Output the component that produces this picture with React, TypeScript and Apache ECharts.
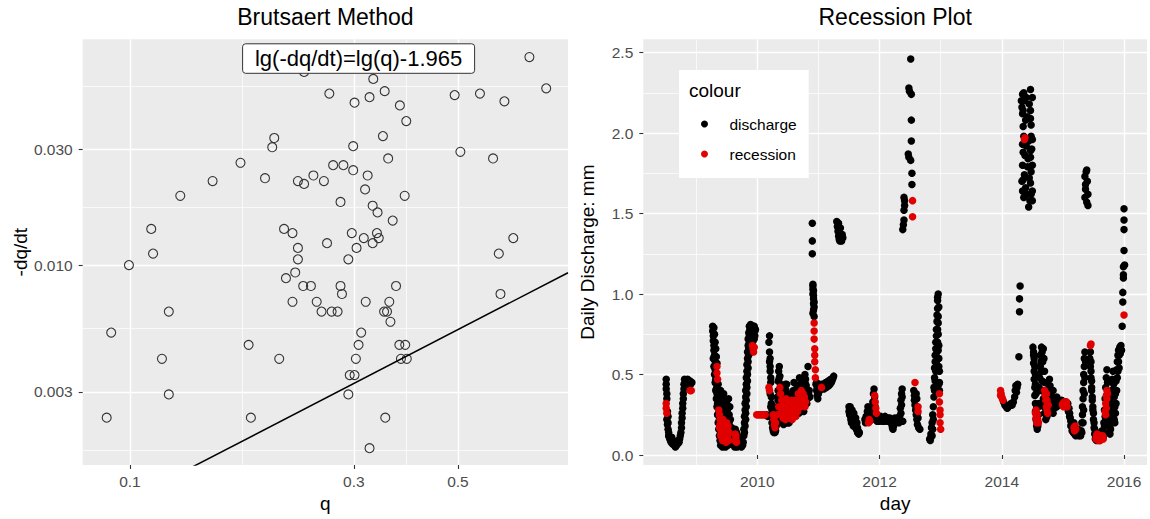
import React, { useEffect, useRef } from 'react';
import * as echarts from 'echarts';

// ---------- Left panel: Brutsaert method ----------
const qValues = [0.235,0.330,0.710,0.771,0.266,0.349,0.324,0.301,0.376,0.388,0.492,0.557,0.628,0.203,0.201,0.346,0.299,0.506,0.594,0.355,0.172,0.271,0.285,0.299,0.321,0.246,0.194,0.150,0.228,0.235,0.259,0.317,0.128,0.385,0.281,0.329,0.337,0.363,0.111,0.213,0.222,0.297,0.336,0.315,0.339,0.656,0.263,0.329,0.228,0.304,0.112,0.611,0.228,0.292,0.0995,0.225,0.215,0.234,0.243,0.281,0.369,0.283,0.616,0.222,0.250,0.318,0.357,0.121,0.256,0.269,0.277,0.348,0.353,0.359,0.0912,0.311,0.179,0.307,0.375,0.386,0.117,0.208,0.303,0.378,0.389,0.294,0.301,0.121,0.292,0.0892,0.181,0.350,0.324];
const dqdtValues = [0.0625,0.0585,0.0720,0.0535,0.0509,0.0521,0.0492,0.0467,0.0455,0.0392,0.0502,0.0509,0.0473,0.0334,0.0306,0.0340,0.0309,0.0293,0.0275,0.0275,0.0264,0.0258,0.0258,0.0246,0.0234,0.0234,0.0228,0.0222,0.0222,0.0216,0.0222,0.0205,0.0193,0.0193,0.0182,0.01756,0.01648,0.01525,0.01409,0.01409,0.01355,0.01355,0.01355,0.01292,0.01292,0.01292,0.01231,0.01231,0.01177,0.01177,0.01115,0.01115,0.01056,0.01056,0.0100,0.00932,0.00883,0.0082,0.0082,0.0082,0.0082,0.0076,0.0076,0.00706,0.00706,0.00706,0.00706,0.00643,0.00643,0.00643,0.00643,0.00643,0.00643,0.00584,0.00527,0.00527,0.00469,0.00469,0.00469,0.00469,0.00411,0.00411,0.00411,0.00411,0.00411,0.00352,0.00352,0.00293,0.00293,0.00235,0.00235,0.00235,0.00176];
const fitSlope = 1;
const fitIntercept = -1.965; // lg(-dq/dt) = lg(q) - 1.965
const fitLabel = 'lg(-dq/dt)=lg(q)-1.965';
const qTicks = [0.1, 0.3, 0.5];
const qTickLabels = ['0.1', '0.3', '0.5'];
const qMinorTicks = [0.1732, 0.3873];
const dqdtTicks = [0.003, 0.01, 0.03];
const dqdtTickLabels = ['0.003', '0.010', '0.030'];
const dqdtMinorTicks = [0.001732, 0.005477, 0.01732, 0.05477];
const qRange = [0.0793, 0.858];
const dqdtRange = [0.0015, 0.0852];

// ---------- Right panel: recession plot (day as decimal year, mm) ----------
const dischargePts: [number, number][] = [
  [2008.51,0.47],[2008.51,0.44],[2008.51,0.41],[2008.52,0.38],[2008.52,0.35],[2008.52,0.22],[2008.53,0.19],[2008.53,0.27],[2008.54,0.24],[2008.54,0.20],[2008.54,0.16],[2008.55,0.14],[2008.55,0.12],[2008.56,0.11],[2008.57,0.10],[2008.58,0.09],[2008.59,0.08],[2008.60,0.11],[2008.61,0.07],[2008.62,0.09],[2008.63,0.07],[2008.64,0.06],[2008.66,0.05],[2008.67,0.07],[2008.68,0.06],[2008.70,0.07],[2008.71,0.09],[2008.72,0.08],[2008.73,0.10],[2008.74,0.12],[2008.75,0.14],[2008.76,0.17],[2008.76,0.20],[2008.77,0.23],[2008.77,0.26],[2008.78,0.29],[2008.78,0.32],[2008.79,0.35],[2008.79,0.38],[2008.80,0.41],[2008.80,0.44],[2008.81,0.47],[2008.82,0.45],[2008.83,0.43],[2008.84,0.46],[2008.85,0.44],[2008.86,0.47],[2008.87,0.45],[2008.88,0.43],[2008.90,0.46],[2008.91,0.44],[2008.93,0.45],
  [2009.27,0.80],[2009.27,0.77],[2009.28,0.74],[2009.28,0.71],[2009.29,0.68],[2009.29,0.65],[2009.30,0.62],[2009.30,0.59],[2009.31,0.56],[2009.31,0.53],[2009.32,0.50],[2009.32,0.47],[2009.33,0.44],[2009.33,0.41],[2009.34,0.38],[2009.35,0.35],[2009.35,0.32],[2009.36,0.29],[2009.37,0.26],[2009.38,0.22],[2009.39,0.18],[2009.40,0.14],[2009.41,0.10],[2009.42,0.07],[2009.43,0.05],
  [2009.29,0.79],[2009.30,0.75],[2009.31,0.70],[2009.32,0.66],[2009.33,0.61],[2009.34,0.57],[2009.36,0.44],[2009.37,0.40],[2009.38,0.36],
  [2009.28,0.60],[2009.29,0.55],[2009.30,0.50],[2009.31,0.45],[2009.32,0.40],[2009.33,0.35],[2009.34,0.30],[2009.35,0.25],[2009.36,0.20],[2009.37,0.16],[2009.38,0.12],[2009.39,0.09],[2009.40,0.06],
  [2009.40,0.40],[2009.41,0.37],[2009.42,0.33],[2009.43,0.30],[2009.44,0.26],[2009.45,0.38],[2009.46,0.34],[2009.47,0.30],[2009.48,0.22],[2009.49,0.18],[2009.50,0.12],[2009.51,0.08],[2009.52,0.06],[2009.46,0.06],[2009.48,0.05],[2009.53,0.35],[2009.53,0.30],[2009.54,0.25],[2009.54,0.20],[2009.55,0.15],[2009.56,0.10],[2009.57,0.07],
  [2009.41,0.30],[2009.42,0.26],[2009.43,0.22],[2009.44,0.15],[2009.45,0.10],[2009.47,0.08],[2009.44,0.35],[2009.46,0.26],[2009.48,0.30],[2009.49,0.26],[2009.50,0.32],[2009.51,0.28],[2009.52,0.24],[2009.55,0.30],[2009.56,0.22],[2009.57,0.16],[2009.58,0.10],[2009.60,0.07],[2009.63,0.05],[2009.65,0.06],[2009.67,0.05],[2009.71,0.09],[2009.73,0.08],[2009.75,0.07],
  [2009.58,0.17],[2009.59,0.14],[2009.60,0.11],[2009.61,0.08],[2009.62,0.06],[2009.64,0.16],[2009.66,0.14],[2009.68,0.12],[2009.69,0.09],[2009.70,0.07],[2009.72,0.06],[2009.74,0.05],[2009.76,0.06],
  [2009.77,0.08],[2009.78,0.12],[2009.78,0.16],[2009.79,0.20],[2009.79,0.24],[2009.80,0.28],[2009.80,0.32],[2009.81,0.36],[2009.81,0.40],[2009.82,0.44],[2009.82,0.48],[2009.83,0.52],[2009.83,0.56],[2009.84,0.60],[2009.84,0.64],[2009.85,0.68],[2009.85,0.72],[2009.86,0.76],[2009.87,0.80],
  [2009.79,0.14],[2009.80,0.18],[2009.81,0.22],[2009.81,0.26],[2009.82,0.30],[2009.82,0.34],[2009.83,0.38],[2009.83,0.42],[2009.84,0.46],[2009.84,0.50],[2009.85,0.54],[2009.85,0.58],[2009.86,0.62],[2009.86,0.66],[2009.87,0.70],[2009.87,0.74],
  [2009.88,0.78],[2009.89,0.81],[2009.90,0.77],[2009.91,0.80],[2009.92,0.74],[2009.93,0.79],[2009.94,0.76],[2009.95,0.72],[2009.95,0.80],[2009.96,0.77],[2009.90,0.72],[2009.92,0.70],[2009.88,0.72],[2009.89,0.75],[2009.91,0.73],[2009.93,0.71],[2009.94,0.80],[2009.96,0.74],[2009.97,0.78],
  [2010.15,0.25],[2010.17,0.24],
  [2010.20,0.74],[2010.20,0.64],[2010.21,0.60],[2010.21,0.55],[2010.21,0.52],[2010.22,0.48],[2010.22,0.45],[2010.23,0.36],[2010.23,0.32],[2010.24,0.28],[2010.25,0.25],[2010.26,0.22],[2010.27,0.19],[2010.28,0.16],[2010.29,0.14],[2010.30,0.15],[2010.31,0.18],[2010.32,0.22],[2010.33,0.28],[2010.34,0.34],[2010.34,0.40],[2010.35,0.46],[2010.35,0.52],[2010.36,0.55],[2010.37,0.49],[2010.38,0.44],[2010.39,0.36],[2010.40,0.30],[2010.41,0.26],[2010.42,0.22],[2010.43,0.19],[2010.44,0.22],[2010.45,0.28],[2010.46,0.34],[2010.47,0.40],[2010.48,0.44],[2010.49,0.38],[2010.50,0.30],[2010.51,0.24],[2010.52,0.20],[2010.54,0.22],[2010.56,0.27],[2010.58,0.33],[2010.59,0.40],[2010.60,0.45],[2010.61,0.38],[2010.62,0.30],[2010.63,0.26],[2010.64,0.25],[2010.66,0.30],[2010.67,0.36],[2010.68,0.42],[2010.69,0.48],[2010.70,0.44],[2010.71,0.36],[2010.72,0.31],[2010.74,0.28],[2010.75,0.34],[2010.76,0.41],[2010.77,0.47],[2010.78,0.50],[2010.79,0.44],[2010.80,0.37],[2010.81,0.32],[2010.83,0.55],[2010.85,0.40],[2010.86,0.36],
  [2010.19,0.70],[2010.20,0.58],[2010.21,0.38],[2010.22,0.30],[2010.23,0.24],[2010.24,0.20],[2010.25,0.17],[2010.26,0.15],[2010.27,0.14],[2010.28,0.20],[2010.29,0.24],[2010.30,0.20],[2010.31,0.24],[2010.32,0.30],[2010.33,0.36],[2010.34,0.46],[2010.36,0.48],[2010.37,0.38],[2010.38,0.32],[2010.39,0.28],[2010.40,0.24],[2010.41,0.20],[2010.42,0.28],[2010.43,0.34],[2010.44,0.38],[2010.45,0.42],[2010.46,0.44],[2010.47,0.30],[2010.48,0.20],[2010.49,0.22],[2010.50,0.25],[2010.51,0.20],[2010.52,0.26],[2010.53,0.32],[2010.54,0.36],[2010.55,0.30],[2010.56,0.22],[2010.57,0.26],[2010.58,0.28],[2010.59,0.24],[2010.60,0.30],[2010.61,0.27],[2010.62,0.24],[2010.63,0.33],[2010.64,0.38],[2010.65,0.42],[2010.66,0.37],[2010.67,0.28],[2010.68,0.26],[2010.69,0.30],[2010.70,0.34],[2010.71,0.42],[2010.72,0.46],[2010.73,0.40],[2010.74,0.34],[2010.75,0.29],[2010.76,0.27],[2010.77,0.33],[2010.78,0.38],[2010.79,0.47],[2010.80,0.43],[2010.81,0.40],[2010.82,0.35],[2010.84,0.38],
  [2010.90,1.44],[2010.90,1.33],[2010.90,1.25],[2010.91,1.06],[2010.91,1.03],[2010.91,1.00],[2010.92,0.97],[2010.92,0.94],[2010.92,0.90],[2010.93,0.86],[2010.91,1.05],[2010.92,1.02],[2010.92,0.99],[2010.93,0.95],[2010.93,0.92],[2010.91,0.88],
  [2010.96,0.44],[2010.97,0.40],[2010.98,0.37],[2010.99,0.35],[2011.00,0.38],[2011.01,0.41],[2011.03,0.43],[2011.06,0.42],[2011.08,0.44],[2011.10,0.43],[2011.12,0.45],[2011.14,0.44],[2011.16,0.46],[2011.18,0.45],[2011.20,0.47],[2011.22,0.46],[2011.24,0.48],[2011.25,0.49],
  [2010.97,0.45],[2010.98,0.42],[2010.99,0.40],[2011.00,0.43],[2011.02,0.40],[2011.04,0.41],[2011.05,0.44],[2011.07,0.42],[2011.09,0.41],[2011.11,0.43],[2011.13,0.42],[2011.15,0.44],[2011.17,0.43],[2011.19,0.44],[2011.21,0.45],[2011.23,0.47],
  [2011.30,1.45],[2011.31,1.42],[2011.32,1.39],[2011.33,1.36],[2011.34,1.34],[2011.35,1.33],[2011.36,1.36],[2011.37,1.34],[2011.38,1.33],[2011.39,1.37],[2011.40,1.35],[2011.33,1.44],[2011.36,1.41],
  [2011.50,0.30],[2011.51,0.28],[2011.52,0.26],[2011.53,0.24],[2011.54,0.25],[2011.55,0.22],[2011.56,0.21],[2011.58,0.20],[2011.59,0.19],[2011.60,0.18],[2011.62,0.16],[2011.64,0.14],[2011.66,0.13],[2011.52,0.30],[2011.55,0.28],[2011.58,0.26],[2011.61,0.23],[2011.63,0.20],
  [2011.50,0.27],[2011.51,0.25],[2011.53,0.22],[2011.54,0.20],[2011.56,0.24],[2011.57,0.18],[2011.60,0.21],[2011.62,0.19],[2011.64,0.17],[2011.65,0.15],[2011.67,0.14],
  [2011.76,0.22],[2011.78,0.24],[2011.80,0.27],[2011.81,0.30],[2011.83,0.26],[2011.85,0.23],[2011.87,0.22],[2011.88,0.28],[2011.89,0.33],[2011.90,0.38],[2011.91,0.41],[2011.93,0.30],[2011.95,0.25],[2011.97,0.23],[2011.99,0.22],[2012.01,0.23],[2012.03,0.22],[2012.05,0.21],[2012.07,0.22],[2012.09,0.24],[2012.11,0.22],[2012.13,0.21],[2012.15,0.22],[2012.17,0.23],[2012.19,0.20],[2012.21,0.17],[2012.22,0.16],[2012.24,0.21],[2012.26,0.22],[2012.28,0.21],[2012.30,0.22],[2012.32,0.20],[2012.33,0.24],[2012.34,0.29],[2012.35,0.34],[2012.36,0.38],[2012.37,0.41],[2012.38,0.21],
  [2011.77,0.20],[2011.79,0.21],[2011.82,0.24],[2011.86,0.25],[2011.90,0.30],[2011.92,0.36],[2011.94,0.22],[2011.96,0.21],[2011.98,0.24],[2012.00,0.21],[2012.02,0.24],[2012.04,0.23],[2012.06,0.23],[2012.08,0.21],[2012.10,0.23],[2012.12,0.23],[2012.14,0.23],[2012.16,0.21],[2012.18,0.22],[2012.20,0.19],[2012.23,0.18],[2012.25,0.23],[2012.27,0.20],[2012.29,0.23],[2012.31,0.21],[2012.35,0.26],[2012.36,0.31],[2012.37,0.36],
  [2012.38,1.40],[2012.39,1.43],[2012.40,1.46],[2012.40,1.52],[2012.41,1.55],[2012.41,1.58],[2012.40,1.60],[2012.48,2.28],[2012.49,2.26],[2012.51,2.46],[2012.52,2.24],[2012.52,2.08],[2012.52,1.95],[2012.47,1.87],[2012.48,1.85],[2012.51,1.83],[2012.53,1.75],[2012.53,1.68],
  [2012.56,0.40],[2012.57,0.37],[2012.57,0.34],[2012.58,0.31],[2012.59,0.28],[2012.60,0.25],[2012.61,0.22],[2012.62,0.19],[2012.64,0.17],[2012.66,0.16],[2012.60,0.38],[2012.61,0.35],[2012.62,0.26],[2012.63,0.23],
  [2012.82,0.10],[2012.83,0.09],[2012.84,0.11],[2012.84,0.13],[2012.85,0.17],[2012.86,0.20],[2012.87,0.25],[2012.88,0.30],[2012.89,0.36],[2012.89,0.42],[2012.90,0.48],[2012.90,0.54],[2012.91,0.58],[2012.91,0.62],[2012.92,0.66],[2012.92,0.70],[2012.93,0.74],[2012.93,0.78],[2012.94,0.83],[2012.94,0.87],[2012.95,0.91],[2012.95,0.96],[2012.96,1.00],[2012.95,0.98],[2012.96,0.82],[2012.96,0.75],[2012.97,0.68],[2012.97,0.60],[2012.98,0.52],[2012.98,0.45],[2012.97,0.55],[2012.96,0.65],
  [2012.90,0.40],[2012.91,0.46],[2012.92,0.52],[2012.93,0.58],[2012.94,0.64],[2012.95,0.70],[2012.95,0.78],[2012.96,0.86],[2012.97,0.92],[2012.97,0.44],[2012.98,0.40],[2012.86,0.12],[2012.87,0.16],[2012.88,0.22],
  [2014.03,0.33],[2014.05,0.31],[2014.07,0.30],[2014.09,0.29],[2014.11,0.30],[2014.13,0.31],[2014.15,0.32],[2014.17,0.31],[2014.19,0.33],[2014.21,0.36],[2014.22,0.40],[2014.23,0.43],[2014.24,0.39],[2014.25,0.42],[2014.26,0.44],[2014.28,0.61],[2014.29,0.89],[2014.29,0.97],[2014.30,1.05],
  [2014.32,2.20],[2014.34,2.24],[2014.36,2.25],[2014.40,2.22],[2014.47,2.27],[2014.50,2.22],[2014.35,2.14],[2014.47,2.14],[2014.34,2.12],[2014.42,2.10],[2014.47,2.09],[2014.35,2.04],[2014.48,1.98],[2014.50,1.96],[2014.34,1.93],[2014.47,1.89],[2014.38,1.86],[2014.47,1.85],[2014.34,1.80],[2014.42,1.79],[2014.50,1.80],[2014.35,1.71],[2014.47,1.69],[2014.34,1.64],[2014.41,1.62],[2014.50,1.64],[2014.36,1.60],[2014.50,1.58],[2014.44,1.54],
  [2014.33,2.16],[2014.37,2.20],[2014.39,2.08],[2014.45,2.18],[2014.48,2.05],[2014.36,1.98],[2014.40,1.92],[2014.44,1.95],[2014.49,1.90],[2014.35,1.88],[2014.43,1.84],[2014.48,1.76],[2014.37,1.74],[2014.33,1.70],[2014.45,1.72],[2014.39,1.66],[2014.48,1.62],[2014.46,1.58],[2014.38,1.63],
  [2014.51,0.67],[2014.52,0.62],[2014.52,0.57],[2014.53,0.52],[2014.53,0.47],[2014.54,0.42],[2014.54,0.37],[2014.55,0.32],[2014.55,0.27],[2014.56,0.22],[2014.57,0.18],[2014.58,0.16],[2014.59,0.20],[2014.60,0.25],[2014.61,0.32],[2014.62,0.40],[2014.62,0.48],[2014.63,0.55],[2014.64,0.62],[2014.65,0.67],[2014.66,0.64],[2014.67,0.58],[2014.68,0.66],[2014.69,0.60],[2014.70,0.52],[2014.70,0.45],[2014.71,0.38],[2014.72,0.32],[2014.73,0.27],[2014.74,0.24],[2014.75,0.30],[2014.76,0.36],[2014.77,0.42],[2014.78,0.47],[2014.79,0.43],[2014.80,0.38],[2014.81,0.34],[2014.82,0.31],[2014.83,0.28],[2014.84,0.26],[2014.85,0.30],[2014.86,0.34],[2014.87,0.33],[2014.88,0.35],[2014.89,0.32],[2014.90,0.30],[2014.91,0.34],[2014.92,0.33],
  [2014.52,0.64],[2014.53,0.60],[2014.54,0.55],[2014.55,0.50],[2014.55,0.44],[2014.56,0.38],[2014.57,0.30],[2014.58,0.24],[2014.59,0.18],[2014.60,0.30],[2014.61,0.42],[2014.62,0.55],[2014.63,0.62],[2014.64,0.58],[2014.65,0.52],[2014.66,0.46],[2014.67,0.40],[2014.68,0.35],[2014.69,0.30],[2014.70,0.26],[2014.72,0.22],[2014.74,0.33],[2014.76,0.28],[2014.78,0.35],[2014.80,0.30],[2014.82,0.36],[2014.84,0.40],[2014.86,0.29],[2014.88,0.31],[2014.90,0.36],
  [2014.94,0.34],[2014.96,0.32],[2014.98,0.34],[2015.00,0.33],[2015.02,0.31],[2015.04,0.33],[2015.06,0.30],[2015.08,0.32],[2015.10,0.29],[2015.11,0.26],[2015.12,0.23],[2015.13,0.21],[2015.14,0.19],[2015.16,0.17],[2015.18,0.20],[2015.20,0.16],[2015.22,0.14],[2015.24,0.13],[2015.26,0.12],[2015.28,0.13],[2015.30,0.15],[2015.31,0.20],[2015.32,0.25],[2015.32,0.30],[2015.33,0.35],[2015.33,0.40],[2015.34,0.45],[2015.34,0.50],[2015.35,0.55],[2015.35,0.60],[2015.36,0.64],
  [2015.09,0.27],[2015.11,0.24],[2015.13,0.18],[2015.15,0.15],[2015.17,0.14],[2015.19,0.13],[2015.21,0.12],[2015.23,0.15],[2015.25,0.16],[2015.27,0.14],[2015.29,0.12],[2015.31,0.14],[2015.33,0.20],[2015.34,0.28],[2015.35,0.38],[2015.36,0.48],[2015.37,0.58],
  [2015.39,1.77],[2015.36,1.73],[2015.40,1.70],[2015.37,1.65],[2015.41,1.62],[2015.36,1.60],[2015.39,1.57],[2015.41,1.55],[2015.38,1.76],[2015.37,1.68],
  [2015.45,0.64],[2015.46,0.58],[2015.46,0.52],[2015.47,0.46],[2015.47,0.40],[2015.48,0.34],[2015.49,0.28],[2015.50,0.22],[2015.51,0.17],[2015.52,0.13],[2015.53,0.10],[2015.55,0.09],[2015.57,0.10],[2015.60,0.12],[2015.62,0.14],[2015.64,0.12],[2015.66,0.15],[2015.67,0.20],[2015.68,0.28],[2015.69,0.35],[2015.70,0.42],[2015.71,0.48],[2015.72,0.53],[2015.73,0.45],[2015.74,0.36],[2015.75,0.28],[2015.76,0.22],[2015.77,0.18],[2015.78,0.25],[2015.79,0.32],[2015.80,0.40],[2015.81,0.47],[2015.82,0.52],[2015.83,0.44],[2015.84,0.36],[2015.85,0.30],[2015.86,0.38],[2015.87,0.46],[2015.88,0.53],[2015.89,0.58],[2015.90,0.62],[2015.91,0.65],[2015.92,0.62],[2015.93,0.67],[2015.94,0.63],[2015.95,0.68],[2015.96,0.65],[2015.97,0.80],[2015.98,0.95],[2015.98,1.01],[2015.99,1.10],[2015.99,1.12],[2015.99,1.17],[2016.00,1.27],[2016.00,1.40],[2016.00,1.46],[2016.00,1.53],[2016.01,1.18],
  [2015.44,0.60],[2015.45,0.55],[2015.46,0.48],[2015.47,0.42],[2015.48,0.36],[2015.49,0.30],[2015.50,0.26],[2015.51,0.20],[2015.52,0.16],[2015.53,0.13],[2015.54,0.11],[2015.62,0.10],[2015.64,0.15],[2015.66,0.11],[2015.67,0.14],[2015.68,0.18],[2015.69,0.24],[2015.70,0.22],[2015.71,0.28],[2015.72,0.34],[2015.73,0.30],[2015.74,0.24],[2015.75,0.18],[2015.76,0.14],[2015.77,0.13],[2015.78,0.16],[2015.79,0.20],[2015.80,0.24],[2015.81,0.30],[2015.82,0.36],[2015.83,0.28],[2015.84,0.22],[2015.85,0.20],[2015.86,0.26],[2015.87,0.32],[2015.88,0.40],[2015.89,0.48],[2015.90,0.52],[2015.91,0.58],[2015.92,0.54],
];
const recessionPts: [number, number][] = [
  [2008.51,0.32],[2008.51,0.29],[2008.52,0.26],[2008.90,0.40],[2008.92,0.40],
  [2009.34,0.55],[2009.34,0.51],[2009.35,0.47],[2009.37,0.28],[2009.38,0.25],[2009.39,0.22],[2009.39,0.19],[2009.40,0.16],[2009.41,0.13],[2009.42,0.11],[2009.43,0.09],[2009.44,0.22],[2009.45,0.19],[2009.46,0.16],[2009.47,0.13],[2009.48,0.10],[2009.49,0.08],[2009.50,0.20],[2009.51,0.16],[2009.52,0.12],[2009.53,0.09],[2009.64,0.13],[2009.65,0.10],[2009.66,0.08],[2009.92,0.68],[2009.93,0.66],[2009.94,0.64],[2009.95,0.67],
  [2009.38,0.17],[2009.40,0.12],[2009.42,0.18],[2009.44,0.12],[2009.46,0.09],[2009.48,0.16],[2009.50,0.10],[2009.52,0.18],[2009.54,0.14],[2009.63,0.09],[2009.65,0.12],
  [2009.99,0.25],[2010.01,0.25],[2010.03,0.25],[2010.05,0.25],[2010.07,0.25],[2010.09,0.25],[2010.11,0.25],[2010.13,0.25],
  [2010.19,0.42],[2010.20,0.40],[2010.26,0.25],[2010.27,0.22],[2010.28,0.19],[2010.29,0.17],[2010.37,0.42],[2010.38,0.38],[2010.40,0.34],[2010.41,0.30],[2010.43,0.27],[2010.45,0.24],[2010.46,0.22],[2010.48,0.25],[2010.50,0.28],[2010.51,0.32],[2010.53,0.28],[2010.55,0.25],[2010.57,0.22],[2010.62,0.34],[2010.64,0.30],[2010.66,0.27],[2010.68,0.33],[2010.70,0.38],[2010.72,0.40],[2010.74,0.36],[2010.76,0.32],[2010.78,0.30],
  [2010.30,0.20],[2010.32,0.25],[2010.35,0.30],[2010.39,0.26],[2010.42,0.23],[2010.44,0.30],[2010.47,0.35],[2010.52,0.23],[2010.54,0.30],[2010.56,0.34],[2010.58,0.30],[2010.60,0.28],[2010.63,0.24],[2010.65,0.32],[2010.67,0.38],[2010.69,0.35],[2010.71,0.30],[2010.73,0.34],[2010.75,0.38],[2010.77,0.36],[2010.79,0.33],
  [2010.93,0.82],[2010.93,0.77],[2010.93,0.72],[2010.94,0.66],[2010.94,0.62],[2010.94,0.58],[2010.95,0.53],[2010.95,0.48],[2011.05,0.42],
  [2011.82,0.20],[2011.83,0.22],[2011.84,0.21],[2011.92,0.37],[2011.93,0.33],[2011.94,0.29],[2011.95,0.26],
  [2012.54,1.58],[2012.54,1.48],[2012.58,0.45],[2012.63,0.30],[2012.63,0.27],
  [2012.98,0.38],[2012.98,0.33],[2012.99,0.28],[2012.99,0.25],[2012.99,0.20],[2013.00,0.16],
  [2013.98,0.40],[2013.99,0.38],[2014.00,0.36],[2014.01,0.35],[2014.02,0.34],[2013.98,0.37],
  [2014.38,1.97],[2014.37,1.96],
  [2014.55,0.26],[2014.56,0.23],[2014.57,0.20],[2014.58,0.25],[2014.59,0.22],[2014.70,0.40],[2014.71,0.37],[2014.72,0.34],[2014.73,0.30],[2014.74,0.28],[2014.75,0.26],[2014.73,0.38],
  [2014.56,0.28],[2014.57,0.25],[2014.60,0.20],[2014.72,0.38],[2014.74,0.34],[2014.76,0.31],
  [2014.99,0.31],[2015.01,0.30],[2015.03,0.32],[2015.05,0.31],[2015.07,0.30],[2015.18,0.17],[2015.19,0.15],[2015.21,0.16],[2015.45,0.68],[2015.46,0.69],
  [2015.00,0.32],[2015.02,0.33],[2015.04,0.30],[2015.06,0.33],[2015.20,0.18],
  [2015.55,0.12],[2015.56,0.10],[2015.57,0.11],[2015.58,0.09],[2015.59,0.10],[2015.60,0.11],[2015.61,0.09],[2015.63,0.10],[2015.65,0.12],[2015.69,0.27],[2015.70,0.32],[2015.71,0.37],[2015.72,0.40],[2016.00,0.87],
  [2015.54,0.10],[2015.56,0.13],[2015.58,0.12],[2015.60,0.09],[2015.62,0.12],[2015.64,0.11],[2015.66,0.10],[2015.70,0.25],[2015.71,0.29],[2015.72,0.35],[2015.73,0.38],
];
const yearTicks = [2010, 2012, 2014, 2016];
const yearMinorTicks = [2009, 2011, 2013, 2015];
const mmTicks = [0, 0.5, 1, 1.5, 2, 2.5];
const mmMinorTicks = [0.25, 0.75, 1.25, 1.75, 2.25];
const yearRange = [2008.135, 2016.376];
const mmRange = [-0.062, 2.582];
const seriesNames = ['discharge', 'recession'];
const seriesColors = ['#000000', '#e00000'];

const FONT = "'Liberation Sans', Arial, Helvetica, sans-serif";

function pickLabel(v: number, ticks: number[], labels: string[]) {
  let best = 0;
  for (let i = 1; i < ticks.length; i++) {
    if (Math.abs(Math.log(ticks[i] / v)) < Math.abs(Math.log(ticks[best] / v))) best = i;
  }
  return labels[best];
}

export default function App() {
  const ref = useRef<HTMLDivElement>(null);
  useEffect(() => {
    if (!ref.current) return;
    const chart = echarts.init(ref.current, undefined, { renderer: 'svg' });
    const tick = { show: true, length: 4, lineStyle: { color: '#333333', width: 1.1 } };
    const label = { color: '#4d4d4d', fontSize: 15.5, fontFamily: FONT };
    const major = { show: true, lineStyle: { color: '#ffffff', width: 1.4 } };
    const minor = { show: true, lineStyle: { color: '#ffffff', width: 0.7 } };
    const nameStyle = { color: '#000000', fontSize: 19, fontFamily: FONT };
    const minorAxis = (type: string, gridIndex: number, min: number, max: number, custom: number[]) => ({
      type, gridIndex, min, max,
      axisLine: { show: false },
      axisTick: { show: false, customValues: custom },
      axisLabel: { show: false },
      splitLine: minor,
      minorTick: { show: false },
      minorSplitLine: { show: false },
    });
    const fitY = (q: number) => Math.pow(10, fitSlope * Math.log10(q) + fitIntercept);

    const option: any = {
      animation: false,
      grid: [
        { left: 82.7, top: 39.3, width: 485.3, height: 425.7, show: true, backgroundColor: '#ebebeb', borderWidth: 0 },
        { left: 643.3, top: 39.3, width: 503.7, height: 425.7, show: true, backgroundColor: '#ebebeb', borderWidth: 0 },
      ],
      xAxis: [
        {
          type: 'log', gridIndex: 0, min: qRange[0], max: qRange[1],
          axisLine: { show: false },
          axisTick: { ...tick, customValues: qTicks },
          axisLabel: { ...label, customValues: qTicks, margin: 8, formatter: (v: number) => pickLabel(v, qTicks, qTickLabels) },
          splitLine: major, minorTick: { show: false }, minorSplitLine: { show: false },
          name: 'q', nameLocation: 'middle', nameGap: 27, nameTextStyle: nameStyle,
        },
        minorAxis('log', 0, qRange[0], qRange[1], qMinorTicks),
        {
          type: 'value', gridIndex: 1, min: yearRange[0], max: yearRange[1],
          axisLine: { show: false },
          axisTick: { ...tick, customValues: yearTicks },
          axisLabel: { ...label, customValues: yearTicks, margin: 8, formatter: (v: number) => String(Math.round(v)) },
          splitLine: major,
          name: 'day', nameLocation: 'middle', nameGap: 27, nameTextStyle: nameStyle,
        },
        minorAxis('value', 1, yearRange[0], yearRange[1], yearMinorTicks),
      ],
      yAxis: [
        {
          type: 'log', gridIndex: 0, min: dqdtRange[0], max: dqdtRange[1],
          axisLine: { show: false },
          axisTick: { ...tick, customValues: dqdtTicks },
          axisLabel: { ...label, customValues: dqdtTicks, margin: 10, formatter: (v: number) => pickLabel(v, dqdtTicks, dqdtTickLabels) },
          splitLine: major, minorTick: { show: false }, minorSplitLine: { show: false },
          name: '-dq/dt', nameLocation: 'middle', nameGap: 46, nameTextStyle: nameStyle,
        },
        minorAxis('log', 0, dqdtRange[0], dqdtRange[1], dqdtMinorTicks),
        {
          type: 'value', gridIndex: 1, min: mmRange[0], max: mmRange[1],
          axisLine: { show: false },
          axisTick: { ...tick, customValues: mmTicks },
          axisLabel: { ...label, customValues: mmTicks, margin: 10, formatter: (v: number) => v.toFixed(1) },
          splitLine: major,
          name: 'Daily Discharge: mm', nameLocation: 'middle', nameGap: 46, nameTextStyle: nameStyle,
        },
        minorAxis('value', 1, mmRange[0], mmRange[1], mmMinorTicks),
      ],
      legend: {
        data: seriesNames,
        orient: 'vertical',
        left: 679, top: 70,
        backgroundColor: '#ffffff',
        padding: [45, 12, 15, 22],
        itemWidth: 40, itemHeight: 7, itemGap: 12,
        icon: 'circle',
        selectedMode: false,
        textStyle: { color: '#000000', fontSize: 15.5, fontFamily: FONT, lineHeight: 18 },
      },
      graphic: [
        { type: 'text', x: 325.4, y: 17, z: 100, style: { text: 'Brutsaert Method', fill: '#000', fontSize: 23, fontFamily: FONT, align: 'center', verticalAlign: 'middle', textAlign: 'center', textVerticalAlign: 'middle' } },
        { type: 'text', x: 895.2, y: 17, z: 100, style: { text: 'Recession Plot', fill: '#000', fontSize: 23, fontFamily: FONT, align: 'center', verticalAlign: 'middle', textAlign: 'center', textVerticalAlign: 'middle' } },
        { type: 'rect', z: 100, shape: { x: 242.6, y: 43.8, width: 232, height: 29.5, r: 3 }, style: { fill: '#ffffff', stroke: '#333333', lineWidth: 1 } },
        { type: 'text', x: 358.6, y: 58.8, z: 101, style: { text: fitLabel, fill: '#000', fontSize: 22, fontFamily: FONT, align: 'center', verticalAlign: 'middle', textAlign: 'center', textVerticalAlign: 'middle' } },
        { type: 'text', x: 689, y: 90, z: 100, style: { text: 'colour', fill: '#000', fontSize: 19, fontFamily: FONT, align: 'left', verticalAlign: 'middle', textAlign: 'left', textVerticalAlign: 'middle' } },
      ],
      series: [
        {
          type: 'scatter', xAxisIndex: 0, yAxisIndex: 0, silent: true,
          symbol: 'circle', symbolSize: 9,
          itemStyle: { color: 'rgba(0,0,0,0)', borderColor: '#333333', borderWidth: 1.1, opacity: 1 },
          data: qValues.map((q, i) => [q, dqdtValues[i]]),
        },
        {
          type: 'line', xAxisIndex: 0, yAxisIndex: 0, silent: true, clip: true,
          showSymbol: false, symbol: 'none',
          lineStyle: { color: '#000000', width: 1.5 },
          data: [[qRange[0], fitY(qRange[0])], [qRange[1], fitY(qRange[1])]],
        },
        {
          name: seriesNames[0], type: 'scatter', xAxisIndex: 2, yAxisIndex: 2, silent: true,
          symbol: 'circle', symbolSize: 7.5, itemStyle: { color: seriesColors[0], opacity: 1 },
          data: dischargePts,
        },
        {
          name: seriesNames[1], type: 'scatter', xAxisIndex: 2, yAxisIndex: 2, silent: true,
          symbol: 'circle', symbolSize: 7.5, itemStyle: { color: seriesColors[1], opacity: 1 },
          data: recessionPts,
        },
      ],
    };
    chart.setOption(option);
    return () => chart.dispose();
  }, []);
  return <div ref={ref} style={{ position: 'fixed', left: 0, top: 0, width: 1150, height: 519, background: '#ffffff' }} />;
}
